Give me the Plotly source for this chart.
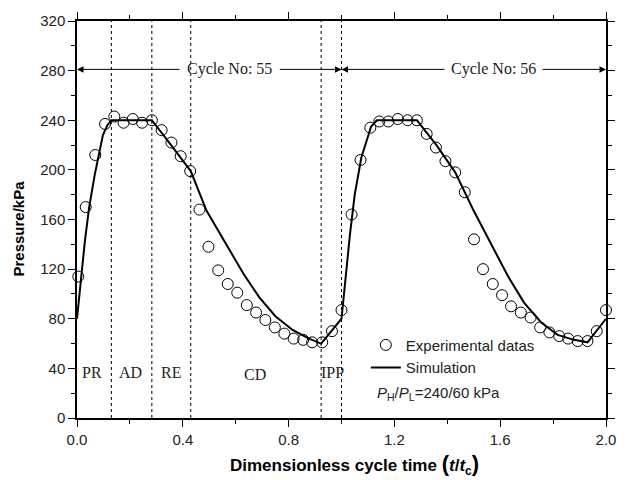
import plotly.graph_objects as go

# Experimental data (t/tc, kPa)
exp_t = [0.005, 0.033, 0.069, 0.106, 0.141, 0.176, 0.211, 0.246, 0.283, 0.320, 0.357, 0.392, 0.428, 0.463,
         0.497, 0.534, 0.570, 0.606, 0.642, 0.677, 0.712, 0.748, 0.784, 0.819, 0.855, 0.889, 0.927, 0.964, 1.0,
         1.038, 1.072, 1.109, 1.143, 1.177, 1.213, 1.250, 1.285, 1.322, 1.357, 1.393, 1.430, 1.466, 1.501,
         1.535, 1.572, 1.607, 1.641, 1.678, 1.715, 1.751, 1.786, 1.823, 1.857, 1.893, 1.930, 1.965, 2.0]
exp_p = [114, 170, 212, 237, 243, 238, 241, 238, 240, 232, 222, 211, 199, 168,
         138, 119, 108, 101, 91, 85, 79, 73, 68, 64, 63, 61, 61, 70, 87,
         164, 208, 234, 239, 239, 241, 240, 240, 229, 218, 207, 198, 182, 144,
         120, 108, 99, 90, 85, 81, 73, 69, 66, 64, 62, 62, 70, 87]

# Simulation
sim_t = [0, 0.03, 0.046, 0.067, 0.098, 0.115, 0.13, 0.283, 0.345, 0.43, 0.49, 0.56, 0.63, 0.69, 0.75,
         0.815, 0.877, 0.923, 1.0, 1.032, 1.05, 1.075, 1.112, 1.134, 1.285, 1.359, 1.43, 1.50, 1.57,
         1.63, 1.69, 1.755, 1.817, 1.879, 1.93, 2.0]
sim_p = [80, 143, 170, 196, 228, 236, 240, 240, 223, 199, 167, 141, 116, 97, 82,
         71, 64, 60, 80, 148, 180, 210, 235, 240, 240, 220, 198, 167, 138,
         114, 93, 77, 67, 63, 61, 80]

# Phase boundaries and labels
phase_bounds = [0.13, 0.283, 0.43, 0.923, 1.0]
phase_labels = ["PR", "AD", "RE", "CD", "IPP"]
phase_label_t = [0.057, 0.203, 0.355, 0.673, 0.966]
phase_label_p = [37, 37, 37, 35, 37]

x_ticks = [0.0, 0.4, 0.8, 1.2, 1.6, 2.0]
y_ticks = [0, 40, 80, 120, 160, 200, 240, 280, 320]

SERIF = "Liberation Serif"
SANS = "Liberation Sans"

fig = go.Figure()

for b in phase_bounds:
    fig.add_shape(type="line", x0=b, x1=b, y0=0, y1=320, xref="x", yref="y",
                  line=dict(color="black", width=1, dash="dot"), layer="below")

fig.add_trace(go.Scatter(x=exp_t, y=exp_p, mode="markers", name="Experimental datas",
                         marker=dict(symbol="circle-open", size=11, color="black", line=dict(width=1)),
                         cliponaxis=False))
fig.add_trace(go.Scatter(x=sim_t, y=sim_p, mode="lines", name="Simulation",
                         line=dict(color="black", width=2)))

for lab, t, p in zip(phase_labels, phase_label_t, phase_label_p):
    fig.add_annotation(x=t, y=p, text=lab, showarrow=False,
                       font=dict(family=SERIF, size=16, color="#222"))

# Cycle arrows
arrow_y = 281
arrows = [(0.393, 0.0), (0.761, 1.0), (1.395, 1.0), (1.755, 2.0)]
for tail, head in arrows:
    fig.add_annotation(x=head, y=arrow_y, ax=tail, ay=arrow_y, xref="x", yref="y",
                       axref="x", ayref="y", text="", showarrow=True,
                       arrowhead=2, arrowsize=1.3, arrowwidth=1, arrowcolor="black")
fig.add_annotation(x=0.577, y=arrow_y, text="Cycle No: 55", showarrow=False,
                   font=dict(family=SERIF, size=16, color="#222"))
fig.add_annotation(x=1.575, y=arrow_y, text="Cycle No: 56", showarrow=False,
                   font=dict(family=SERIF, size=16, color="#222"))

fig.add_annotation(x=1.127, y=19.5, xanchor="left", showarrow=False,
                   text="<i>P</i><sub>H</sub>/<i>P</i><sub>L</sub>=240/60 kPa",
                   font=dict(family=SANS, size=15, color="#222"))

# Axis titles
fig.add_annotation(xref="paper", yref="paper", x=0.525, y=-0.118, xanchor="center", yanchor="middle",
                   showarrow=False,
                   text="<b>Dimensionless cycle time <span style='font-size:22px'>(</span><i>t</i>/<i>t</i><sub>c</sub><span style='font-size:22px'>)</span></b>",
                   font=dict(family=SANS, size=17, color="black"))
fig.add_annotation(xref="paper", yref="paper", x=-0.111, y=0.478, textangle=-90,
                   xanchor="center", yanchor="middle",
                   showarrow=False, text="<b>Pressure/kPa</b>",
                   font=dict(family=SANS, size=15, color="black"))

axis_common = dict(showline=True, linecolor="black", linewidth=1.5, mirror="allticks",
                   ticks="outside", ticklen=7, tickwidth=1, tickcolor="black",
                   showgrid=False, zeroline=False,
                   tickfont=dict(family=SANS, size=15, color="#222"))

fig.update_xaxes(range=[0, 2.0], tickvals=x_ticks, ticktext=[f"{v:.1f}" for v in x_ticks],
                 minor=dict(dtick=0.2, ticks="outside", ticklen=4, tickcolor="black"),
                 **axis_common)
fig.update_yaxes(range=[0, 320], tickvals=y_ticks, ticktext=[str(v) for v in y_ticks],
                 minor=dict(dtick=20, ticks="outside", ticklen=4, tickcolor="black"),
                 **axis_common)

fig.update_layout(width=628, height=480, margin=dict(l=77, r=12, t=19, b=62),
                  paper_bgcolor="white", plot_bgcolor="white",
                  showlegend=True,
                  legend=dict(x=0.546, y=0.225, xanchor="left", yanchor="top",
                              bgcolor="rgba(0,0,0,0)", tracegroupgap=0, itemwidth=30,
                              font=dict(family=SANS, size=15, color="#222")))

fig.write_html("out.html")
